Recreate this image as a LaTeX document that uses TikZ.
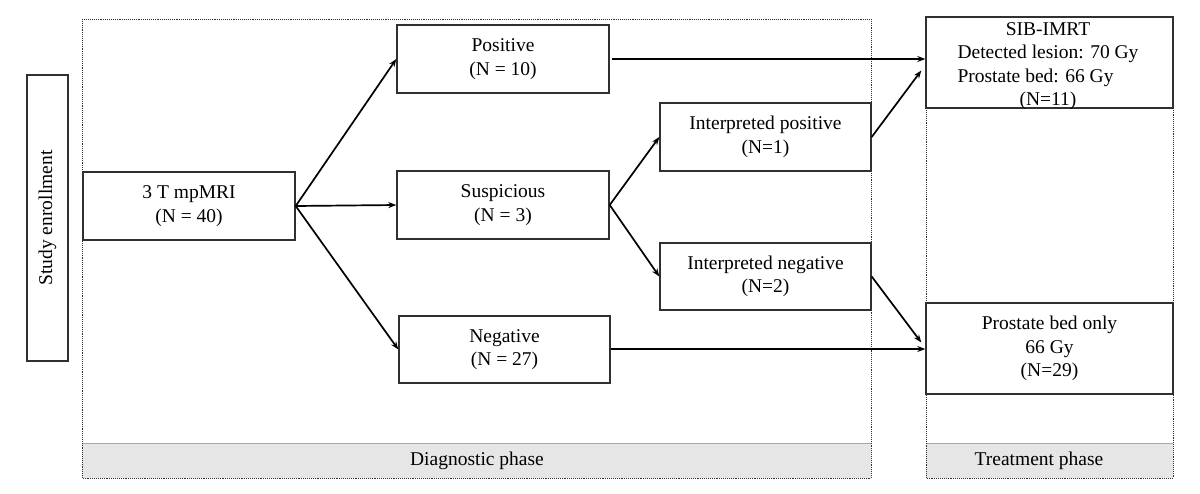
\documentclass[tikz,border=0pt]{standalone}
\usepackage{fontspec}
\setmainfont{Liberation Serif}
\usetikzlibrary{arrows.meta,calc}
\definecolor{boxline}{HTML}{303030}
\definecolor{bandfill}{HTML}{E6E6E6}
\definecolor{bandline}{HTML}{A8A8A8}
\tikzset{
  flowbox/.style={draw=boxline, line width=1.4pt, fill=white, align=center,
    inner sep=0pt, font=\fontsize{19.5}{23.5}\selectfont},
  flowtext/.style={align=center, inner sep=0pt, font=\fontsize{19.5}{23.5}\selectfont},
  flowarrow/.style={draw=black, line width=1.7pt, -{Stealth[length=8pt,width=6pt]}},
  phaseframe/.style={draw=boxline, line width=0.9pt, densely dotted},
  phaseband/.style={fill=bandfill, draw=none},
  phaselabel/.style={font=\fontsize{19.5}{23.5}\selectfont, inner sep=0pt}
}
\begin{document}
\begin{tikzpicture}[x=1pt,y=-1pt]
\useasboundingbox (0,0) rectangle (1200,493);
% phase frames
\fill[phaseband] (82,443) rectangle (871,478);
\draw[bandline, line width=0.9pt] (82,443) -- (871,443);
\fill[phaseband] (926,443) rectangle (1173,478);
\draw[bandline, line width=0.9pt] (926,443) -- (1173,443);
\draw[phaseframe] (82,19) rectangle (871,478);
\draw[phaseframe] (926,17) rectangle (1173,478);
\node[phaselabel] (diaglbl) at (477,461) {Diagnostic phase};
\node[phaselabel] (treatlbl) at (1039,461) {Treatment phase};
% nodes
\node[flowbox, minimum width=41pt, minimum height=286pt] (enroll) at (47.5,218) {};
\node[flowtext, rotate=90] (enrolltxt) at (enroll.center) {Study enrollment};
\node[flowbox, minimum width=212pt, minimum height=68pt] (mri) at (189,206) {3 T mpMRI\\(N = 40)};
\node[flowbox, minimum width=212pt, minimum height=68pt] (pos) at (503,59) {Positive\\(N = 10)};
\node[flowbox, minimum width=212pt, minimum height=68pt] (susp) at (503,205) {Suspicious\\(N = 3)};
\node[flowbox, minimum width=211pt, minimum height=67pt] (neg) at (504.5,349.5) {Negative\\(N = 27)};
\node[flowbox, minimum width=211pt, minimum height=68pt] (ipos) at (765.5,137) {Interpreted positive\\(N=1)};
\node[flowbox, minimum width=211pt, minimum height=67pt] (ineg) at (765.5,276.5) {Interpreted negative\\(N=2)};
\node[flowbox, minimum width=247pt, minimum height=91pt] (sib) at (1049.5,62.5) {};
\node[flowtext] (sibtxt) at (1048,66)
  {SIB-IMRT\\Detected lesion: 70 Gy\\\rlap{Prostate bed: 66 Gy}\phantom{Detected lesion: 70 Gy}\\(N=11)};
\node[flowbox, minimum width=247pt, minimum height=91pt] (pbo) at (1049.5,348.5) {Prostate bed only\\66 Gy\\(N=29)};
% connectors
\draw[flowarrow] (mri.east) -- (pos.west);
\draw[flowarrow] (mri.east) -- (susp.west);
\draw[flowarrow] (mri.east) -- (neg.west);
\draw[flowarrow] (susp.east) -- (ipos.west);
\draw[flowarrow] (susp.east) -- (ineg.west);
\draw[flowarrow] ([xshift=2pt]pos.east) -- (pos.east -| sib.west);
\draw[flowarrow] (ipos.east) -- ([xshift=-4pt,yshift=-8pt]sib.west);
\draw[flowarrow] (ineg.east) -- ([xshift=-4pt,yshift=6pt]pbo.west);
\draw[flowarrow] ([yshift=0.5pt]neg.east) -- ([yshift=0.5pt]neg.east -| pbo.west);
\end{tikzpicture}
\end{document}
